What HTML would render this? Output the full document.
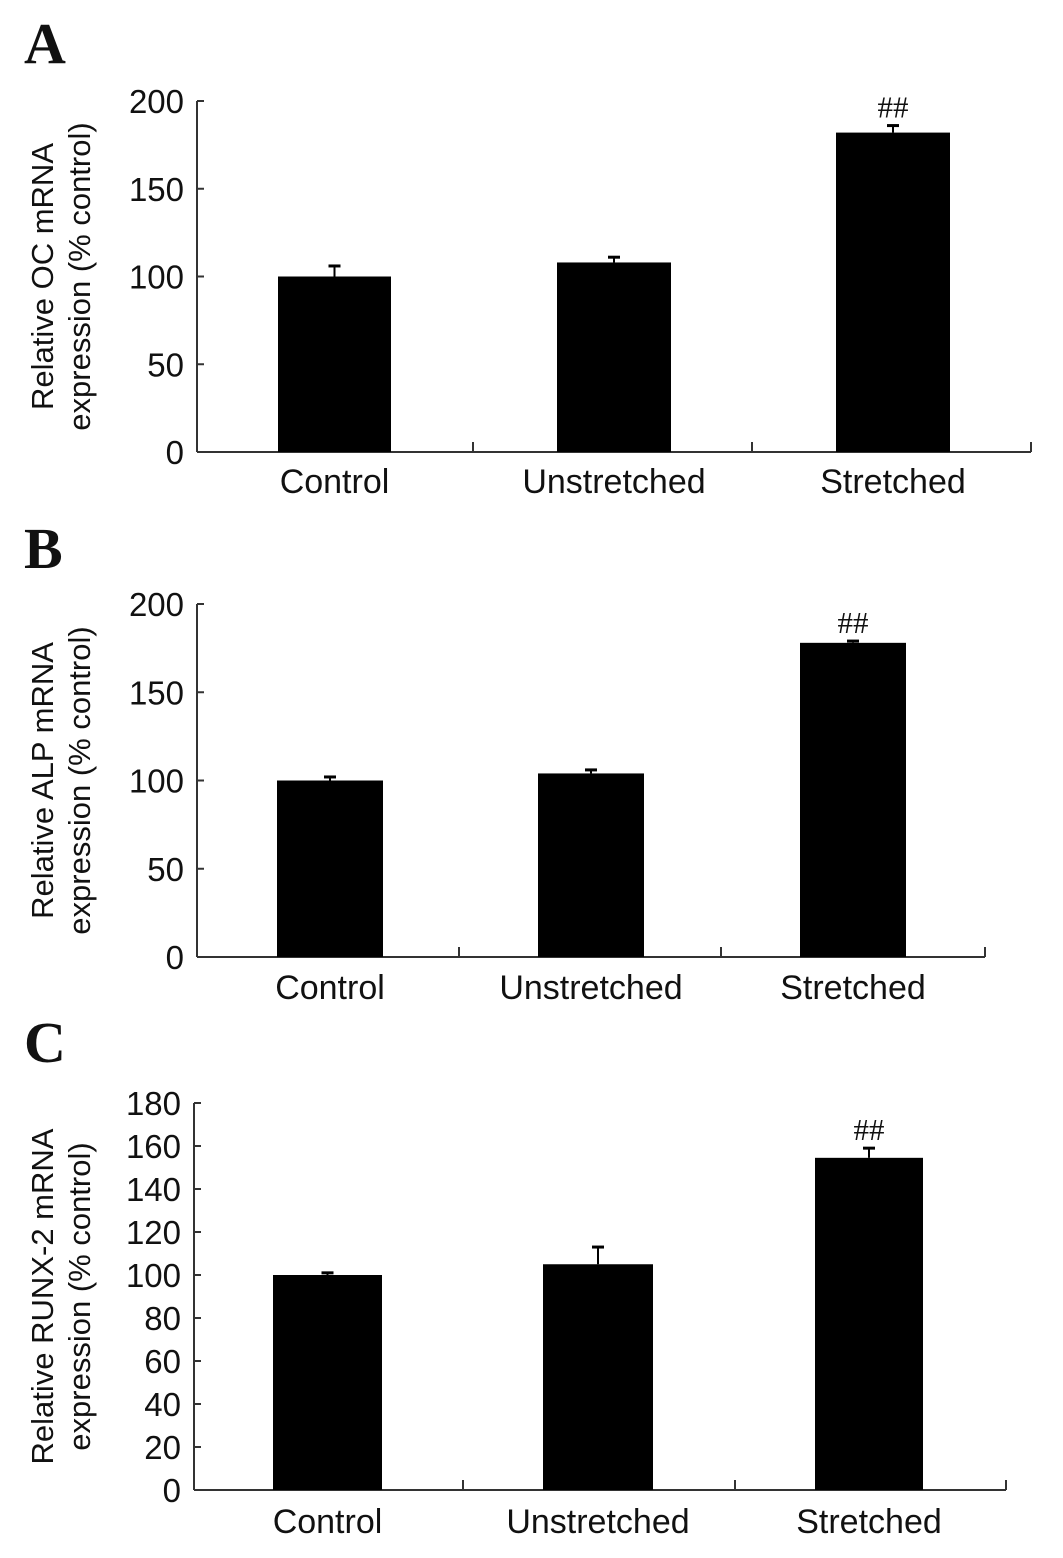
<!DOCTYPE html>
<html><head><meta charset="utf-8"><style>
body{margin:0;background:#fff}
svg{display:block}
text{font-family:"Liberation Sans",Arial,sans-serif;fill:#111}
</style></head><body>
<svg id="fig" width="1063" height="1558" viewBox="0 0 1063 1558"></svg>
<script>
const categories = ["Control","Unstretched","Stretched"];
const valuesA = [100,108,182];
const errorsA = [6,3,4];
const valuesB = [100,104,178];
const errorsB = [2,2,1];
const valuesC = [100,105,154.5];
const errorsC = [1,8,4.5];
const ticksA = [0,50,100,150,200];
const ticksB = [0,50,100,150,200];
const ticksC = [0,20,40,60,80,100,120,140,160,180];
const titlesA = ["Relative OC mRNA","expression (% control)"];
const titlesB = ["Relative ALP mRNA","expression (% control)"];
const titlesC = ["Relative RUNX-2 mRNA","expression (% control)"];
const sigMarks = ["","","##"];

const NS="http://www.w3.org/2000/svg";
const svg=document.getElementById('fig');
function mk(tag,attrs,parent){const e=document.createElementNS(NS,tag);for(const k in attrs)e.setAttribute(k,attrs[k]);(parent||svg).appendChild(e);return e;}

const panels=[
 {letter:"A",ly:63,x0:197,x1:1031,yTop:101,yBot:452,max:200,ticks:ticksA,vals:valuesA,errs:errorsA,titles:titlesA,bars:[[278,391],[557,671],[836,950]],divs:[473,752,1031],labY:493},
 {letter:"B",ly:568,x0:197,x1:985,yTop:604,yBot:957,max:200,ticks:ticksB,vals:valuesB,errs:errorsB,titles:titlesB,bars:[[277,383],[538,644],[800,906]],divs:[459,721,985],labY:999},
 {letter:"C",ly:1062,x0:194,x1:1006,yTop:1103,yBot:1490,max:180,ticks:ticksC,vals:valuesC,errs:errorsC,titles:titlesC,bars:[[273,382],[543,653],[815,923]],divs:[463,735,1006],labY:1533}
];

panels.forEach((p,pi)=>{
 const g=mk('g',{});
 
 
 const y=v=>p.yBot-(v/p.max)*(p.yBot-p.yTop);
 const L=mk('text',{x:24,y:p.ly,'font-size':58,'font-weight':'bold',style:'font-family:"Liberation Serif",serif'},g);
 L.textContent=p.letter;
 
 
 const ya=mk('line',{x1:p.x0,y1:p.yTop,x2:p.x0,y2:p.yBot,stroke:'#333','stroke-width':2},g);
 
 
 const xa=mk('line',{x1:p.x0,y1:p.yBot,x2:p.x1,y2:p.yBot,stroke:'#333','stroke-width':2},g);
 
 
 p.divs.forEach(d=>{const t=mk('line',{x1:d,y1:p.yBot,x2:d,y2:p.yBot-10,stroke:'#333','stroke-width':2},g);
  
  });
 p.ticks.forEach(v=>{
  const t=mk('line',{x1:p.x0,y1:y(v),x2:p.x0+7,y2:y(v),stroke:'#333','stroke-width':2},g);
  
  
  const tl=mk('text',{x:p.x0-13,y:y(v)+12,'font-size':33,'text-anchor':'end'},g);
  tl.textContent=v;
  
  
 });
 const cy=(p.yTop+p.yBot)/2;
 p.titles.forEach((s,i)=>{
  const cx=53+i*37;
  const t=mk('text',{x:cx,y:cy,'font-size':31,'text-anchor':'middle',transform:`rotate(-90 ${cx} ${cy})`},g);
  t.textContent=s;
  
  
 });
 categories.forEach((c,i)=>{
  const [bx0,bx1]=p.bars[i];const cx=(bx0+bx1)/2;
  const v=p.vals[i],e=p.errs[i];
  const ey=y(v+e);
  const el=mk('line',{x1:cx,y1:y(v),x2:cx,y2:ey,stroke:'#000','stroke-width':2},g);
  
  
  const ec=mk('line',{x1:cx-6,y1:ey,x2:cx+6,y2:ey,stroke:'#000','stroke-width':3},g);
  
  
  const r=mk('rect',{x:bx0,y:y(v),width:bx1-bx0,height:p.yBot-y(v),fill:'#000'},g);
  
  
  const lab=mk('text',{x:cx,y:p.labY,'font-size':34,'text-anchor':'middle'},g);
  lab.textContent=c;
  
  
  if(sigMarks[i]){
   const s=mk('text',{x:cx,y:ey-8,'font-size':31,'text-anchor':'middle',style:'font-family:"Liberation Serif",serif'},g);
   s.textContent=sigMarks[i];
   
   
  }
 });
});
</script>
</body></html>
